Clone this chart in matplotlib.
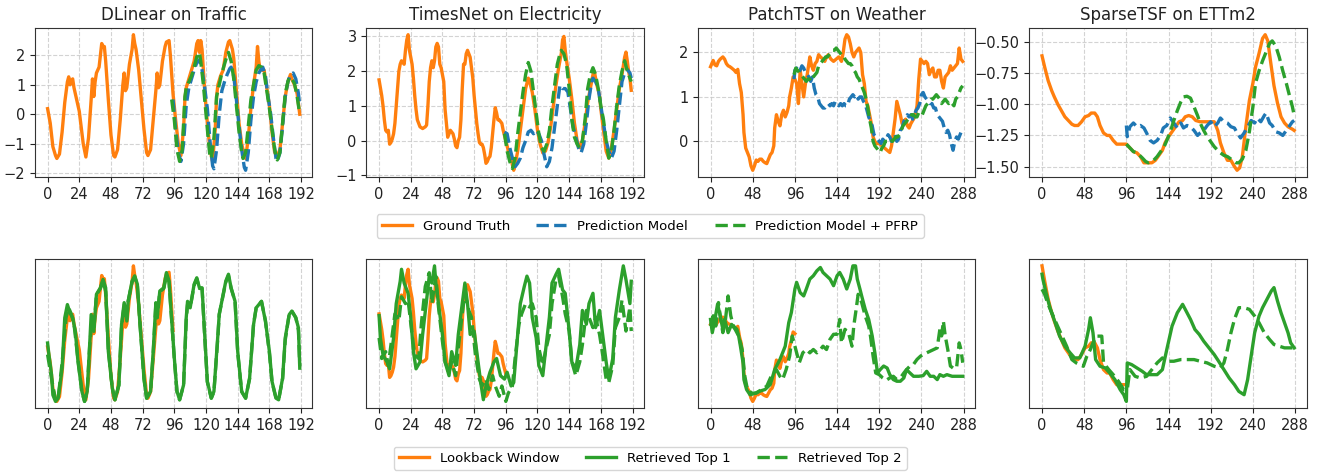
import numpy as np
import matplotlib
matplotlib.use('Agg')
import matplotlib.pyplot as plt

# ---------------- data ----------------
titles = ['DLinear on Traffic', 'TimesNet on Electricity', 'PatchTST on Weather', 'SparseTSF on ETTm2']
horizons = [192, 192, 288, 288]
lookback = [96, 96, 96, 96]
yticks_top = [[-2, -1, 0, 1, 2], [-1, 0, 1, 2, 3], [0, 1, 2], [-1.5, -1.25, -1.0, -0.75, -0.5]]

# DLinear / Traffic
tr_gt_t = [0, 2, 4, 6, 7, 9, 11, 13, 15, 16, 17, 18, 19, 20, 22, 24, 27, 29, 31, 33, 34, 35, 36, 37, 39, 41, 42, 43, 44, 46, 48, 50, 51, 53, 55, 57, 58, 59, 60, 62, 64, 65, 66, 67, 69, 71, 73, 75, 76, 78, 80, 82, 83, 84, 85, 87, 89, 90, 92, 93, 95, 97, 99, 101, 103, 104, 105, 107, 109, 111, 113, 114, 115, 116, 117, 119, 121, 123, 125, 127, 128, 129, 131, 133, 135, 137, 138, 140, 141, 143, 145, 147, 149, 150, 152, 154, 156, 158, 159, 160, 161, 163, 164, 166, 168, 170, 172, 174, 176, 178, 180, 182, 184, 185, 187, 189, 191]
tr_gt_v = [0.19, -0.3, -1.1, -1.4, -1.5, -1.35, -0.6, 0.4, 1.1, 1.27, 1.0, 1.15, 1.2, 0.9, 0.5, 0.1, -1.0, -1.45, -0.8, 0.5, 1.2, 0.6, 1.1, 1.4, 1.6, 2.4, 2.3, 2.3, 1.8, 0.5, -0.7, -1.4, -1.45, -1.2, -0.2, 1.0, 1.4, 0.8, 0.9, 1.7, 2.2, 2.7, 2.4, 2.2, 1.5, 0.5, -0.5, -1.3, -1.4, -1.2, -0.2, 0.8, 1.4, 0.9, 1.0, 1.8, 2.3, 2.45, 2.5, 2.0, 0.7, -0.2, -1.0, -1.4, -0.5, 0.5, 0.9, 1.2, 1.5, 1.8, 2.4, 2.5, 2.1, 2.5, 2.2, 0.8, -0.3, -1.2, -1.6, -0.5, 0.6, 1.0, 1.3, 1.5, 2.1, 2.45, 2.5, 2.2, 1.9, 0.8, -0.3, -1.0, -1.4, -1.5, -0.8, 0.2, 1.0, 1.6, 2.3, 1.8, 1.5, 1.5, 1.5, 0.9, 0.3, -0.6, -1.3, -1.4, -1.2, -0.3, 0.6, 1.1, 1.35, 1.2, 1.0, 0.7, 0.0]
tr_pred_t = [95, 97, 99, 101, 103, 105, 107, 109, 111, 113, 115, 117, 119, 121, 123, 125, 126, 128, 130, 132, 134, 136, 138, 139, 141, 143, 145, 147, 149, 150, 152, 154, 156, 158, 160, 162, 163, 165, 167, 169, 171, 173, 174, 176, 178, 180, 182, 184, 186, 188, 190, 191]
tr_pred_v = [0.5, -0.5, -1.3, -1.6, -1.0, 0.3, 0.9, 1.2, 1.5, 1.75, 1.85, 1.5, 0.9, 0.2, -0.9, -1.75, -1.85, -1.2, 0.0, 0.8, 1.1, 1.35, 1.55, 1.6, 1.3, 0.5, -0.4, -1.2, -1.8, -1.9, -1.3, -0.2, 0.6, 1.1, 1.4, 1.55, 1.6, 1.3, 0.6, 0.0, -0.8, -1.5, -1.6, -1.3, -0.4, 0.6, 1.1, 1.35, 1.4, 1.2, 0.7, 0.3]
tr_pfrp_t = [94, 96, 98, 100, 102, 104, 105, 107, 109, 111, 113, 115, 116, 118, 120, 122, 123, 124, 126, 128, 130, 132, 134, 136, 137, 139, 141, 143, 145, 147, 148, 150, 152, 154, 156, 158, 160, 162, 164, 166, 168, 170, 172, 174, 176, 178, 180, 182, 183, 185, 187, 189, 191]
tr_pfrp_v = [0.5, -0.2, -1.2, -1.6, -1.2, 0.6, 0.9, 1.1, 1.3, 1.6, 1.95, 2.1, 1.8, 1.0, 0.0, -1.0, -1.45, -1.5, -0.8, 0.6, 1.0, 1.4, 1.7, 2.0, 2.1, 1.8, 1.2, 0.3, -0.6, -1.3, -1.5, -1.3, -0.4, 0.5, 1.0, 1.5, 1.65, 1.6, 1.4, 0.8, 0.2, -0.5, -1.2, -1.55, -1.3, -0.3, 0.7, 1.1, 1.25, 1.2, 1.05, 0.6, 0.0]

# TimesNet / Electricity
el_gt_t = [0, 2, 3, 4, 5, 6, 7, 8, 9, 10, 11, 12, 13, 15, 16, 17, 18, 19, 20, 21, 22, 23, 24, 25, 26, 27, 28, 29, 31, 33, 35, 36, 37, 38, 39, 40, 41, 42, 43, 44, 45, 46, 47, 48, 49, 50, 51, 52, 53, 54, 56, 57, 58, 59, 60, 61, 62, 63, 64, 65, 66, 67, 68, 69, 70, 71, 72, 73, 74, 75, 76, 77, 78, 79, 80, 81, 82, 83, 84, 85, 86, 87, 88, 89, 90, 91, 92, 93, 94, 96, 98, 100, 101, 102, 103, 105, 107, 109, 111, 113, 114, 116, 118, 120, 122, 124, 126, 128, 130, 132, 134, 136, 138, 139, 140, 141, 142, 144, 146, 148, 150, 152, 154, 156, 158, 160, 162, 163, 164, 165, 167, 168, 170, 172, 174, 176, 178, 180, 182, 184, 186, 187, 188, 189, 190, 191]
el_gt_v = [1.75, 1.3, 1.0, 0.6, 0.3, 0.25, 0.3, -0.1, -0.05, 0.05, 0.2, 0.5, 1.0, 2.0, 2.2, 2.3, 2.25, 2.2, 2.6, 2.9, 3.05, 2.6, 2.4, 2.2, 1.8, 1.3, 0.9, 0.6, 0.4, 0.35, 0.4, 0.45, 1.0, 1.7, 2.1, 2.3, 2.1, 2.3, 2.7, 2.8, 2.7, 2.2, 2.1, 1.9, 1.7, 0.9, 0.5, 0.1, 0.2, 0.3, 0.2, 0.05, -0.15, -0.2, 0.0, 0.1, 0.6, 1.5, 2.2, 2.2, 2.5, 2.6, 2.5, 2.4, 2.1, 1.8, 1.3, 0.9, 0.5, 0.2, -0.05, -0.1, -0.1, -0.2, -0.4, -0.65, -0.6, -0.5, -0.45, -0.2, 0.2, 0.6, 0.95, 0.8, 0.6, 0.6, 0.55, 0.5, 0.3, 0.0, -0.3, -0.5, -0.7, -0.85, -0.7, -0.3, 0.3, 0.9, 1.5, 1.8, 1.7, 1.4, 0.9, 0.3, -0.1, -0.35, -0.3, -0.05, 0.4, 1.0, 1.6, 2.1, 2.5, 2.9, 3.0, 2.6, 2.3, 1.8, 1.2, 0.5, 0.0, -0.2, 0.0, 0.5, 1.1, 1.5, 1.9, 2.0, 1.8, 1.6, 1.3, 0.9, 0.3, -0.3, -0.5, -0.2, 0.3, 0.9, 1.5, 1.9, 2.4, 2.55, 2.3, 2.0, 1.8, 1.45]
el_pred_t = [95, 97, 99, 101, 103, 105, 107, 109, 111, 113, 115, 117, 119, 121, 123, 125, 127, 129, 131, 133, 135, 137, 139, 141, 143, 145, 147, 149, 151, 153, 155, 157, 159, 161, 162, 164, 166, 168, 170, 172, 174, 176, 178, 180, 182, 184, 186, 188, 190, 191]
el_pred_v = [0.25, 0.2, -0.2, -0.5, -0.75, -0.65, -0.5, -0.2, 0.0, 0.25, 0.3, 0.2, 0.3, 0.2, 0.0, -0.4, -0.75, -0.6, -0.2, 0.4, 1.0, 1.6, 1.5, 1.5, 1.4, 0.9, 0.4, 0.1, -0.2, -0.35, -0.1, 0.5, 1.2, 1.7, 1.8, 1.7, 1.5, 1.0, 0.5, 0.0, -0.3, -0.5, -0.3, 0.3, 1.0, 1.7, 1.95, 2.05, 1.95, 1.8]
el_pfrp_t = [95, 97, 99, 101, 103, 105, 107, 109, 111, 113, 115, 117, 119, 121, 123, 125, 127, 129, 131, 133, 135, 137, 138, 140, 142, 144, 146, 148, 150, 152, 154, 156, 158, 160, 162, 164, 166, 168, 170, 172, 174, 176, 178, 180, 182, 184, 186, 188, 190, 191]
el_pfrp_v = [0.2, -0.3, -0.6, -0.8, -0.5, 0.2, 0.8, 1.4, 1.9, 2.25, 2.0, 1.4, 0.8, 0.2, -0.2, -0.3, -0.1, 0.3, 1.0, 1.6, 2.2, 2.5, 2.6, 2.5, 2.2, 1.5, 0.6, 0.1, -0.1, -0.2, 0.0, 0.6, 1.5, 1.9, 2.1, 1.9, 1.5, 1.0, 0.6, 0.0, -0.5, -0.3, 0.3, 1.0, 1.6, 2.0, 2.3, 2.0, 1.8, 1.7]

# PatchTST / Weather
we_gt_t = [0, 3, 5, 7, 9, 11, 14, 16, 18, 20, 22, 24, 27, 29, 31, 33, 35, 37, 38, 40, 42, 44, 46, 48, 50, 52, 54, 56, 58, 60, 62, 64, 66, 68, 70, 72, 73, 75, 77, 79, 81, 83, 85, 87, 89, 90, 92, 94, 96, 98, 100, 102, 104, 106, 108, 110, 113, 115, 117, 119, 121, 123, 125, 128, 130, 132, 134, 137, 140, 143, 146, 149, 151, 153, 155, 157, 159, 161, 163, 165, 167, 169, 171, 173, 175, 177, 179, 181, 183, 185, 187, 189, 192, 195, 198, 201, 204, 206, 208, 210, 212, 214, 216, 218, 220, 222, 224, 226, 228, 231, 233, 235, 237, 239, 241, 243, 245, 247, 249, 251, 253, 255, 257, 259, 261, 263, 265, 267, 269, 271, 273, 275, 277, 279, 281, 283, 285, 287]
we_gt_v = [1.68, 1.82, 1.72, 1.7, 1.8, 1.85, 1.9, 1.85, 1.75, 1.7, 1.68, 1.65, 1.6, 1.55, 1.62, 1.3, 1.1, 0.6, 0.2, -0.15, -0.25, -0.35, -0.55, -0.65, -0.55, -0.42, -0.45, -0.4, -0.4, -0.45, -0.48, -0.5, -0.4, -0.3, -0.25, -0.1, 0.3, 0.6, 0.45, 0.35, 0.6, 0.7, 0.55, 0.65, 0.8, 1.0, 1.2, 1.45, 1.4, 1.3, 0.85, 1.6, 1.3, 1.0, 1.3, 1.5, 1.9, 1.7, 1.6, 1.75, 1.8, 1.95, 1.9, 1.85, 1.8, 1.9, 1.95, 1.85, 1.8, 1.85, 1.9, 1.8, 2.0, 2.3, 2.4, 2.35, 2.2, 2.0, 1.9, 2.0, 2.05, 2.1, 2.0, 1.5, 1.3, 0.9, 0.8, 0.6, 0.4, 0.1, 0.0, -0.05, -0.05, -0.1, -0.15, -0.2, -0.25, -0.1, 0.2, 0.5, 0.9, 0.75, 0.6, 0.4, 0.45, 0.5, 0.35, 0.3, 0.4, 0.5, 0.6, 0.8, 1.4, 1.85, 1.8, 1.75, 1.8, 1.75, 1.5, 1.6, 1.65, 1.45, 1.45, 1.6, 1.6, 1.35, 1.2, 1.45, 1.5, 1.55, 1.7, 1.6, 1.65, 1.7, 1.75, 2.1, 1.85, 1.8]
we_pred_t = [95, 96, 98, 100, 102, 104, 106, 108, 110, 112, 114, 116, 118, 120, 122, 124, 126, 128, 130, 132, 134, 136, 138, 140, 142, 144, 146, 148, 150, 152, 154, 156, 158, 160, 162, 164, 166, 168, 170, 172, 174, 176, 178, 180, 182, 184, 186, 188, 190, 192, 194, 196, 198, 200, 202, 204, 206, 208, 210, 212, 214, 216, 218, 220, 222, 224, 226, 228, 230, 232, 234, 236, 238, 240, 242, 244, 246, 248, 250, 252, 254, 256, 258, 260, 262, 264, 266, 268, 270, 272, 274, 276, 278, 280, 282, 284, 286]
we_pred_v = [1.4, 1.6, 1.65, 1.55, 1.6, 1.7, 1.65, 1.55, 1.5, 1.45, 1.35, 1.45, 1.2, 1.05, 1.0, 0.85, 0.8, 0.75, 0.75, 0.8, 0.85, 0.8, 0.85, 0.8, 0.9, 0.85, 0.8, 0.85, 0.8, 0.85, 0.8, 0.8, 0.95, 1.0, 1.05, 1.0, 1.05, 0.95, 1.0, 1.0, 0.9, 0.85, 0.7, 0.55, 0.45, 0.35, 0.15, 0.1, 0.05, 0.0, -0.05, 0.05, 0.0, 0.05, 0.15, 0.1, 0.0, 0.1, 0.15, 0.0, 0.05, 0.25, 0.3, 0.45, 0.5, 0.6, 0.55, 0.6, 0.5, 0.6, 0.7, 0.75, 0.85, 1.05, 1.1, 1.0, 0.95, 0.9, 0.85, 0.85, 0.75, 0.75, 0.6, 0.55, 0.5, 0.45, 0.3, 0.2, 0.25, 0.15, -0.05, -0.2, 0.0, 0.1, 0.05, 0.15, 0.25]
we_pfrp_t = [95, 97, 99, 101, 103, 105, 107, 109, 111, 113, 115, 117, 119, 121, 123, 125, 127, 129, 131, 133, 135, 137, 139, 141, 143, 145, 147, 149, 151, 153, 155, 157, 159, 161, 163, 165, 167, 169, 171, 173, 175, 177, 179, 181, 183, 185, 187, 189, 191, 193, 195, 197, 199, 201, 203, 205, 207, 209, 211, 213, 215, 217, 219, 221, 223, 225, 227, 229, 231, 233, 235, 237, 239, 241, 243, 245, 247, 249, 251, 253, 255, 257, 259, 261, 263, 265, 267, 269, 271, 273, 275, 277, 279, 281, 283, 285, 287]
we_pfrp_v = [1.5, 1.65, 1.6, 1.55, 1.5, 1.45, 1.4, 1.35, 1.4, 1.4, 1.35, 1.45, 1.5, 1.55, 1.7, 1.75, 1.8, 1.85, 1.9, 1.9, 1.95, 2.0, 2.05, 2.05, 2.1, 2.05, 2.0, 1.95, 1.95, 1.85, 1.8, 1.75, 1.75, 1.7, 1.6, 1.55, 1.45, 1.4, 1.3, 1.2, 1.1, 0.95, 0.75, 0.5, 0.3, 0.0, -0.1, -0.15, -0.2, -0.25, -0.15, -0.1, 0.0, 0.0, 0.05, 0.05, 0.0, 0.05, 0.1, 0.1, 0.15, 0.25, 0.35, 0.4, 0.45, 0.5, 0.5, 0.6, 0.6, 0.55, 0.55, 0.65, 0.6, 0.6, 0.7, 0.8, 0.85, 0.9, 0.95, 0.95, 1.0, 1.05, 1.0, 0.95, 0.85, 0.9, 0.95, 0.9, 0.85, 0.9, 0.85, 0.8, 0.95, 1.0, 1.1, 1.2, 1.25]

# SparseTSF / ETTm2
et_gt_t = [0, 3, 7, 11, 14, 18, 22, 26, 30, 34, 37, 41, 45, 49, 53, 56, 60, 63, 66, 70, 74, 77, 81, 85, 91, 96, 100, 104, 108, 112, 116, 119, 125, 129, 133, 137, 140, 144, 148, 152, 156, 160, 163, 167, 171, 175, 180, 186, 192, 196, 200, 203, 207, 211, 215, 219, 222, 225, 228, 232, 236, 240, 243, 247, 251, 254, 257, 260, 264, 268, 272, 276, 280, 285, 287]
et_gt_v = [-0.61, -0.70, -0.81, -0.89, -0.94, -1.0, -1.05, -1.10, -1.13, -1.16, -1.17, -1.17, -1.14, -1.10, -1.09, -1.07, -1.07, -1.10, -1.17, -1.23, -1.25, -1.25, -1.29, -1.32, -1.32, -1.32, -1.35, -1.38, -1.39, -1.42, -1.47, -1.47, -1.47, -1.45, -1.41, -1.37, -1.31, -1.26, -1.22, -1.18, -1.14, -1.13, -1.10, -1.09, -1.10, -1.13, -1.14, -1.14, -1.14, -1.14, -1.21, -1.31, -1.39, -1.45, -1.45, -1.50, -1.53, -1.51, -1.42, -1.18, -0.97, -0.83, -0.70, -0.59, -0.47, -0.44, -0.49, -0.65, -0.85, -0.99, -1.10, -1.15, -1.18, -1.20, -1.21]
et_pred_t = [96, 97, 100, 104, 108, 112, 116, 119, 123, 127, 131, 135, 138, 142, 146, 150, 154, 158, 161, 165, 169, 173, 177, 180, 184, 188, 192, 196, 200, 203, 207, 211, 215, 219, 222, 226, 230, 234, 238, 242, 245, 249, 253, 255, 259, 262, 266, 270, 274, 278, 282, 285, 287]
et_pred_v = [-1.17, -1.26, -1.18, -1.15, -1.18, -1.17, -1.19, -1.23, -1.29, -1.31, -1.29, -1.25, -1.19, -1.17, -1.11, -1.15, -1.19, -1.15, -1.19, -1.17, -1.18, -1.21, -1.25, -1.23, -1.21, -1.17, -1.14, -1.18, -1.15, -1.11, -1.14, -1.15, -1.18, -1.19, -1.23, -1.27, -1.23, -1.18, -1.13, -1.15, -1.11, -1.14, -1.09, -1.07, -1.15, -1.17, -1.22, -1.23, -1.25, -1.21, -1.17, -1.14, -1.13]
et_pfrp_t = [96, 100, 104, 108, 114, 118, 121, 127, 131, 135, 139, 142, 146, 150, 154, 158, 161, 165, 169, 173, 177, 180, 184, 188, 192, 196, 200, 203, 207, 211, 215, 221, 224, 228, 232, 236, 240, 243, 247, 251, 255, 259, 262, 266, 270, 274, 278, 282, 285, 287]
et_pfrp_v = [-1.32, -1.35, -1.38, -1.39, -1.43, -1.46, -1.47, -1.45, -1.42, -1.38, -1.34, -1.29, -1.22, -1.13, -1.05, -0.98, -0.94, -0.935, -0.95, -1.02, -1.09, -1.15, -1.21, -1.26, -1.30, -1.34, -1.37, -1.39, -1.41, -1.42, -1.44, -1.47, -1.47, -1.44, -1.37, -1.22, -1.02, -0.83, -0.73, -0.65, -0.58, -0.51, -0.49, -0.53, -0.62, -0.73, -0.83, -0.94, -1.02, -1.09]

# retrieved neighbours (bottom row)
tr_top1_t = [0, 1, 3, 4, 6, 8, 11, 13, 15, 17, 19, 21, 23, 26, 28, 30, 32, 33, 35, 37, 40, 42, 44, 46, 49, 51, 54, 56, 58, 60, 61, 64, 66, 68, 70, 73, 75, 78, 80, 82, 83, 85, 88, 90, 92, 93, 96, 98, 100, 103, 105, 106, 108, 111, 113, 115, 117, 119, 121, 124, 126, 129, 130, 133, 135, 137, 139, 142, 144, 147, 150, 153, 156, 158, 160, 162, 165, 168, 170, 173, 175, 178, 180, 183, 185, 188, 190, 191]
tr_top1_v = [0.31, -0.05, -0.67, -1.3, -1.5, -1.4, -0.47, 1.09, 1.5, 1.24, 1.09, 0.67, -0.26, -1.19, -1.5, -1.19, 0.36, 1.19, 0.67, 1.82, 2.02, 2.28, 2.02, 0.05, -1.09, -1.45, -0.99, 0.88, 1.56, 0.99, 1.6, 2.23, 2.39, 2.13, 0.88, -0.78, -1.4, -1.19, 0.05, 1.56, 1.09, 1.92, 2.02, 2.49, 2.23, 1.6, -0.16, -1.19, -1.45, -0.99, 1.09, 1.6, 1.4, 2.13, 2.33, 2.02, 2.02, 0.57, -0.88, -1.4, -1.19, 0.57, 1.19, 1.82, 2.23, 2.44, 2.02, 1.6, 0.05, -1.19, -1.4, -0.78, 0.88, 1.4, 1.5, 1.6, 0.99, 0.05, -0.88, -1.4, -1.45, -0.78, 0.47, 1.19, 1.3, 1.09, 0.78, -0.47]
tr_top2_t = [0, 3, 6, 8, 11, 14, 16, 18, 20, 23, 26, 28, 30, 32, 34, 35, 37, 40, 42, 44, 46, 49, 51, 54, 56, 58, 60, 61, 64, 66, 68, 70, 73, 75, 78, 80, 82, 83, 85, 88, 90, 92, 93, 96, 98, 100, 103, 105, 106, 108, 111, 113, 115, 117, 119, 121, 124, 126, 129, 130, 133, 135, 137, 139, 142, 144, 147, 150, 153, 156, 158, 160, 162, 165, 168, 170, 173, 175, 178, 180, 183, 185, 188, 190, 191]
tr_top2_v = [-0.05, -0.8, -1.45, -1.4, -0.3, 1.1, 1.4, 1.2, 0.9, -0.2, -1.2, -1.5, -1.2, 0.3, 1.1, 0.7, 1.8, 2.0, 2.25, 1.9, 0.1, -1.1, -1.45, -1.0, 0.8, 1.5, 1.0, 1.6, 2.2, 2.35, 2.1, 0.9, -0.8, -1.4, -1.2, 0.0, 1.5, 1.1, 1.9, 2.0, 2.4, 2.2, 1.6, -0.2, -1.2, -1.45, -1.0, 1.0, 1.5, 1.4, 2.1, 2.3, 2.0, 2.0, 0.5, -0.9, -1.4, -1.2, 0.5, 1.2, 1.8, 2.2, 2.4, 2.0, 1.6, 0.0, -1.2, -1.4, -0.8, 0.9, 1.4, 1.5, 1.6, 1.0, 0.0, -0.9, -1.4, -1.45, -0.8, 0.4, 1.2, 1.3, 1.1, 0.7, -0.4]

el_top1_t = [0, 1, 3, 6, 8, 11, 13, 16, 17, 19, 22, 24, 26, 28, 31, 33, 36, 38, 40, 42, 43, 45, 48, 50, 53, 55, 58, 60, 63, 65, 67, 69, 72, 74, 77, 79, 81, 84, 87, 89, 92, 95, 97, 100, 102, 105, 107, 110, 112, 114, 116, 119, 121, 124, 126, 129, 131, 134, 136, 139, 141, 144, 146, 149, 152, 154, 157, 159, 162, 164, 167, 169, 172, 174, 177, 179, 182, 185, 187, 190, 191]
el_top1_v = [1.7, 1.05, 0.55, 0.35, 0.15, 1.05, 2.05, 2.7, 3.05, 2.65, 2.35, 1.65, 0.65, 0.15, 0.35, 1.15, 2.15, 2.85, 2.65, 3.15, 2.65, 2.05, 1.15, 0.35, -0.05, 0.65, 0.25, 1.15, 2.05, 2.65, 2.05, 1.15, 1.25, 0.65, -0.25, -0.75, -0.35, 0.05, 0.35, 0.45, -0.05, -0.15, 0.05, -0.35, -0.25, 1.15, 2.05, 2.55, 2.85, 2.65, 1.65, 1.05, 0.25, -0.05, 0.65, 1.65, 2.65, 2.9, 3.05, 2.45, 2.35, 1.25, 0.35, 0.15, 0.85, 1.85, 1.45, 2.05, 2.35, 1.35, 1.85, 1.25, 0.35, -0.15, 0.45, 1.65, 2.45, 3.15, 2.75, 2.05, 2.7]
el_top2_t = [0, 2, 5, 7, 10, 12, 15, 17, 20, 22, 25, 27, 30, 32, 35, 38, 40, 43, 45, 48, 50, 53, 55, 58, 60, 63, 65, 68, 70, 73, 76, 78, 81, 83, 86, 88, 91, 93, 96, 98, 101, 103, 106, 108, 111, 114, 116, 119, 121, 124, 126, 129, 131, 134, 136, 139, 141, 144, 146, 149, 152, 154, 157, 159, 162, 164, 167, 169, 172, 174, 177, 179, 182, 184, 187, 190, 191]
el_top2_v = [1.05, 0.45, 0.65, 0.25, 1.15, 1.75, 1.55, 2.25, 2.05, 2.15, 1.15, 0.55, 0.45, 1.45, 2.55, 2.95, 2.05, 2.85, 1.95, 0.95, 0.35, 0.05, 0.35, -0.05, 0.75, 1.75, 2.35, 1.85, 1.65, 0.55, -0.15, -0.35, -0.15, -0.45, -0.05, -0.35, -0.65, -0.35, -0.8, -0.55, -0.35, 0.45, 1.45, 1.75, 2.05, 1.95, 2.05, 1.65, 0.75, 0.25, 0.65, 1.15, 2.05, 2.75, 2.85, 2.25, 1.75, 1.25, 0.35, -0.05, 0.35, 0.85, 1.85, 1.65, 1.35, 1.65, 1.15, 0.65, -0.15, -0.25, 0.25, 1.35, 1.65, 2.15, 1.25, 1.95, 1.25]

we_top1_t = [0, 2, 5, 8, 11, 14, 16, 20, 24, 28, 32, 34, 37, 38, 41, 45, 51, 56, 62, 68, 73, 79, 85, 89, 92, 96, 98, 102, 106, 109, 113, 117, 121, 125, 128, 132, 136, 140, 144, 147, 151, 155, 159, 162, 165, 167, 170, 172, 176, 180, 184, 187, 190, 193, 197, 201, 204, 208, 212, 216, 220, 223, 227, 231, 237, 242, 246, 250, 254, 258, 261, 265, 269, 275, 280, 287]
we_top1_v = [1.83, 1.43, 1.83, 2.29, 1.94, 1.53, 1.83, 1.43, 1.68, 1.53, 1.33, 1.02, 0.52, 0.01, -0.29, -0.45, -0.4, -0.34, -0.29, -0.14, 0.31, 0.62, 1.02, 1.73, 2.04, 2.75, 2.95, 2.64, 2.54, 2.75, 3.05, 3.15, 3.3, 3.4, 3.25, 3.15, 3.05, 2.85, 3.15, 3.25, 3.05, 2.75, 3.05, 3.45, 3.45, 3.05, 2.75, 2.54, 2.14, 1.83, 1.33, 0.82, 0.21, 0.31, 0.42, 0.36, 0.16, 0.01, -0.04, -0.04, 0.06, 0.31, 0.21, 0.11, 0.11, 0.13, 0.26, 0.11, 0.11, 0.01, 0.16, 0.11, 0.16, 0.11, 0.11, 0.11]
we_top2_t = [0, 3, 6, 9, 11, 14, 17, 20, 23, 26, 30, 33, 36, 39, 42, 47, 52, 58, 64, 69, 75, 79, 82, 86, 90, 93, 97, 101, 105, 109, 113, 117, 121, 125, 128, 132, 136, 140, 144, 147, 149, 153, 157, 161, 163, 166, 168, 172, 176, 180, 182, 185, 188, 192, 196, 200, 204, 208, 212, 216, 220, 223, 227, 231, 235, 239, 242, 246, 250, 254, 258, 261, 263, 265, 267, 270, 273, 276, 280, 283, 285, 287]
we_top2_v = [1.63, 1.94, 1.63, 2.34, 1.94, 1.43, 1.83, 2.54, 1.94, 1.63, 1.53, 1.23, 0.92, 0.11, -0.29, -0.4, -0.4, -0.29, -0.19, 0.11, 0.31, 0.11, 0.01, 0.31, 0.72, 1.33, 0.92, 0.52, 0.82, 0.92, 0.82, 0.92, 0.82, 0.92, 1.02, 0.92, 1.23, 1.38, 1.38, 1.83, 1.12, 1.53, 1.43, 1.02, 1.63, 2.19, 2.59, 2.34, 1.94, 1.63, 1.33, 0.72, 0.21, 0.16, 0.06, -0.01, 0.06, 0.11, 0.01, 0.06, 0.21, 0.31, 0.42, 0.47, 0.62, 0.72, 0.77, 0.82, 0.87, 0.92, 0.97, 1.53, 1.33, 1.78, 1.35, 0.92, 0.42, 0.36, 0.36, 1.12, 0.92, 0.52]

et_top1_t = [0, 1, 5, 9, 15, 20, 26, 32, 37, 43, 49, 53, 55, 58, 61, 66, 72, 77, 83, 89, 93, 96, 97, 102, 108, 114, 119, 125, 131, 137, 142, 148, 154, 160, 163, 169, 174, 179, 184, 190, 196, 201, 207, 213, 219, 224, 230, 234, 238, 242, 247, 251, 257, 261, 264, 268, 272, 276, 280, 283, 287]
et_top1_v = [-0.66, -0.69, -0.78, -0.86, -0.95, -1.03, -1.09, -1.13, -1.16, -1.16, -1.09, -0.99, -0.92, -1.01, -1.17, -1.21, -1.22, -1.25, -1.29, -1.35, -1.38, -1.42, -1.19, -1.20, -1.22, -1.24, -1.26, -1.26, -1.26, -1.23, -1.11, -0.97, -0.89, -0.84, -0.87, -0.93, -0.99, -1.02, -1.06, -1.10, -1.14, -1.18, -1.23, -1.28, -1.32, -1.36, -1.38, -1.29, -1.15, -1.01, -0.91, -0.86, -0.80, -0.76, -0.74, -0.82, -0.89, -0.95, -1.01, -1.07, -1.10]
et_top2_t = [0, 3, 7, 11, 16, 22, 28, 34, 39, 43, 47, 51, 55, 58, 62, 68, 70, 76, 81, 87, 93, 97, 100, 106, 112, 119, 125, 131, 137, 142, 150, 158, 165, 173, 180, 188, 196, 203, 207, 211, 215, 219, 224, 230, 236, 242, 247, 253, 259, 264, 270, 276, 282, 287]
et_top2_v = [-0.75, -0.78, -0.84, -0.89, -0.95, -1.02, -1.09, -1.17, -1.19, -1.20, -1.21, -1.15, -1.11, -1.07, -1.03, -1.03, -1.19, -1.23, -1.26, -1.30, -1.35, -1.35, -1.23, -1.27, -1.28, -1.27, -1.23, -1.19, -1.16, -1.18, -1.18, -1.17, -1.17, -1.17, -1.18, -1.19, -1.21, -1.22, -1.19, -1.11, -1.01, -0.93, -0.86, -0.86, -0.87, -0.91, -0.95, -1.01, -1.05, -1.08, -1.09, -1.10, -1.10, -1.10]

gt_list = [(tr_gt_t, tr_gt_v), (el_gt_t, el_gt_v), (we_gt_t, we_gt_v), (et_gt_t, et_gt_v)]
pred_list = [(tr_pred_t, tr_pred_v), (el_pred_t, el_pred_v), (we_pred_t, we_pred_v), (et_pred_t, et_pred_v)]
pfrp_list = [(tr_pfrp_t, tr_pfrp_v), (el_pfrp_t, el_pfrp_v), (we_pfrp_t, we_pfrp_v), (et_pfrp_t, et_pfrp_v)]
top1_list = [(tr_top1_t, tr_top1_v), (el_top1_t, el_top1_v), (we_top1_t, we_top1_v), (et_top1_t, et_top1_v)]
top2_list = [(tr_top2_t, tr_top2_v), (el_top2_t, el_top2_v), (we_top2_t, we_top2_v), (et_top2_t, et_top2_v)]

c_or = '#ff7f0e'
c_bl = '#1f77b4'
c_gr = '#2ca02c'
lw = 2.4

fig, axes = plt.subplots(2, 4, figsize=(13.2, 4.73), dpi=100)
fig.subplots_adjust(left=0.0265, right=0.990, top=0.941, bottom=0.137, wspace=0.195, hspace=0.55)

for i in range(4):
    ax = axes[0, i]
    gt_t, gt_v = gt_list[i]
    h1, = ax.plot(gt_t, gt_v, color=c_or, lw=lw, label='Ground Truth')
    h2, = ax.plot(*pred_list[i], color=c_bl, lw=lw, ls='--', label='Prediction Model')
    h3, = ax.plot(*pfrp_list[i], color=c_gr, lw=lw, ls='--', label='Prediction Model + PFRP')
    ax.set_title(titles[i], fontsize=12, color='#222222')
    ax.set_yticks(yticks_top[i])

    ax2 = axes[1, i]
    lb_t = [t for t in gt_t if t <= lookback[i]]
    lb_v = gt_v[:len(lb_t)]
    g1, = ax2.plot(lb_t, lb_v, color=c_or, lw=lw, label='Lookback Window')
    g3, = ax2.plot(*top2_list[i], color=c_gr, lw=lw, ls='--', label='Retrieved Top 2', zorder=2.4)
    g2, = ax2.plot(*top1_list[i], color=c_gr, lw=lw, label='Retrieved Top 1', zorder=2.6)
    ax2.set_yticks([])

    step = 24 if horizons[i] == 192 else 48
    for a in (ax, ax2):
        a.set_xticks(np.arange(0, horizons[i] + 1, step))
        a.grid(True, linestyle='--', color='#c8c8c8', lw=0.8, alpha=0.8)
        a.tick_params(labelsize=10.5, colors='#222222')
        for s in a.spines.values():
            s.set_color('#333333')

fig.legend([h1, h2, h3], ['Ground Truth', 'Prediction Model', 'Prediction Model + PFRP'],
           loc='center', bbox_to_anchor=(0.4925, 0.522), ncol=3, fontsize=9.5,
           columnspacing=2.0, handlelength=2.3)
fig.legend([g1, g2, g3], ['Lookback Window', 'Retrieved Top 1', 'Retrieved Top 2'],
           loc='center', bbox_to_anchor=(0.4925, 0.031), ncol=3, fontsize=9.5,
           columnspacing=2.0, handlelength=2.3)

plt.savefig('out.png', dpi=100)
